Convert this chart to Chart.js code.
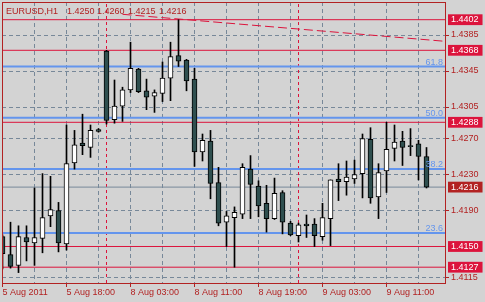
<!DOCTYPE html>
<html><head><meta charset="utf-8">
<script src="https://cdn.jsdelivr.net/npm/chart.js@4.4.0/dist/chart.umd.min.js"></script>
<style>html,body{margin:0;padding:0;background:#D3D3D3;overflow:hidden}canvas{display:block}</style>
</head><body>
<canvas id="c" width="485" height="302"></canvas>
<script>
// ---- data ----
const headerTexts = ['EURUSD,H1', '1.4250', '1.4260', '1.4215', '1.4216'];
const barTimes = [
  '5 Aug 10:00','5 Aug 11:00','5 Aug 12:00','5 Aug 13:00','5 Aug 14:00','5 Aug 15:00','5 Aug 16:00','5 Aug 17:00',
  '5 Aug 18:00','5 Aug 19:00','5 Aug 20:00','5 Aug 21:00','5 Aug 22:00',
  '8 Aug 00:00','8 Aug 01:00','8 Aug 02:00','8 Aug 03:00','8 Aug 04:00','8 Aug 05:00','8 Aug 06:00','8 Aug 07:00',
  '8 Aug 08:00','8 Aug 09:00','8 Aug 10:00','8 Aug 11:00','8 Aug 12:00','8 Aug 13:00','8 Aug 14:00','8 Aug 15:00',
  '8 Aug 16:00','8 Aug 17:00','8 Aug 18:00','8 Aug 19:00','8 Aug 20:00','8 Aug 21:00','8 Aug 22:00','8 Aug 23:00',
  '9 Aug 00:00','9 Aug 01:00','9 Aug 02:00','9 Aug 03:00','9 Aug 04:00','9 Aug 05:00','9 Aug 06:00','9 Aug 07:00',
  '9 Aug 08:00','9 Aug 09:00','9 Aug 10:00','9 Aug 11:00','9 Aug 12:00','9 Aug 13:00','9 Aug 14:00','9 Aug 15:00',
  '9 Aug 16:00'
];
const opens = [
  1.4161,1.4141,1.4129,1.4160,1.4154,1.4159,1.4184,1.4190,1.4153,1.4243,
  1.4265,1.4260,1.4280,1.4367,1.4291,1.4306,1.4324,1.4347,1.4323,1.4317,
  1.4320,1.4337,1.4362,1.4357,1.4336,1.4255,1.4267,1.4221,1.4177,1.4182,
  1.4186,1.4236,1.4217,1.4198,1.4181,1.4210,1.4176,1.4162,1.4175,1.4175,
  1.4161,1.4181,1.4225,1.4222,1.4225,1.4231,1.4269,1.4205,1.4234,1.4259,
  1.4267,1.4262,1.4264,1.4250
];
const highs = [
  1.4163,1.4177,1.4173,1.4173,1.4215,1.4231,1.4228,1.4199,1.4285,1.4279,
  1.4297,1.4285,1.4281,1.4368,1.4335,1.4327,1.4377,1.4348,1.4336,1.4324,
  1.4355,1.4377,1.4402,1.4358,1.4348,1.4275,1.4279,1.4238,1.4189,1.4194,
  1.4242,1.4251,1.4223,1.4218,1.4226,1.4212,1.4178,1.4176,1.4185,1.4181,
  1.4198,1.4224,1.4242,1.4245,1.4246,1.4275,1.4282,1.4242,1.4288,1.4285,
  1.4278,1.4281,1.4268,1.4260
];
const lows = [
  1.4125,1.4126,1.4121,1.4134,1.4129,1.4143,1.4172,1.4144,1.4146,1.4236,
  1.4252,1.4249,1.4277,1.4286,1.4287,1.4289,1.4321,1.4321,1.4302,1.4299,
  1.4311,1.4312,1.4350,1.4323,1.4239,1.4245,1.4203,1.4173,1.4150,1.4127,
  1.4181,1.4181,1.4183,1.4166,1.4180,1.4164,1.4162,1.4155,1.4160,1.4150,
  1.4157,1.4151,1.4201,1.4207,1.4220,1.4204,1.4198,1.4181,1.4210,1.4245,
  1.4240,1.4251,1.4224,1.4215
];
const closes = [
  1.4142,1.4128,1.4161,1.4155,1.4160,1.4182,1.4191,1.4154,1.4242,1.4263,
  1.4262,1.4279,1.4278,1.4290,1.4306,1.4324,1.4348,1.4322,1.4316,1.4321,
  1.4337,1.4361,1.4356,1.4334,1.4255,1.4268,1.4220,1.4176,1.4184,1.4188,
  1.4238,1.4219,1.4195,1.4181,1.4209,1.4177,1.4163,1.4174,1.4173,1.4162,
  1.4182,1.4224,1.4222,1.4227,1.4230,1.4270,1.4204,1.4232,1.4258,1.4266,
  1.4260,1.4261,1.4250,1.4216
];
const gridBars = [0,4,8,12,16,20,24,28,32,36,40,44,48,52];
const timeTickBars = [0,8,16,24,32,40,48];
const timeTickLabels = ['5 Aug 2011','5 Aug 18:00','8 Aug 03:00','8 Aug 11:00','8 Aug 19:00','9 Aug 03:00','9 Aug 11:00'];
const priceTicks = [1.4385,1.4345,1.4305,1.4270,1.4230,1.4190,1.4115];
const levelPrices = [1.4402,1.4368,1.4288,1.4150,1.4127];
const bidPrice = 1.4216;
const fibLabels = ['61.8','50.0','38.2','23.6'];
const fibPrices = [1.4350,1.4293,1.4236,1.4165];
const separatorBars = [13,37];
const trendBars = [15, 55.3125];
const trendPrices = [1.4408, 1.4378];

// ---- styles ----
const BG = '#D3D3D3', AXIS = '#B22222', GRID = '#778899', LEVEL = '#DC143C', BID = '#778899', BIDBOX = '#B22222', FIB = '#6495ED';
const UP = '#FFFFFF', DOWN = '#2F4F4F';
const FONT = 'Liberation Sans';
const Y_MIN = 1.410944, Y_MAX = 1.442167;
const X_MIN = -0.0625, X_MAX = 55.3125;

const near = (a, b) => Math.abs(a - b) < 1e-7;
const isLevel = v => levelPrices.some(l => near(l, v));
const isBid = v => near(v, bidPrice);
const isBox = v => isLevel(v) || isBid(v);

const datasets = [];
datasets.push({
  type: 'bar', label: 'body', order: 0, stack: 'candle',
  data: opens.map((o, i) => ({x: i, y: [o, closes[i]]})),
  backgroundColor: opens.map((o, i) => closes[i] > o ? UP : DOWN),
  borderColor: '#000', borderWidth: 1, borderSkipped: false, barThickness: 5
});
datasets.push({
  type: 'bar', label: 'wick', order: 1, stack: 'candle',
  data: lows.map((l, i) => ({x: i, y: [l, highs[i]]})),
  backgroundColor: '#000', borderWidth: 0, barThickness: 1
});
const hLine = (v, color, width, dash) => ({
  type: 'line', order: 2, data: [{x: X_MIN, y: v}, {x: X_MAX, y: v}],
  borderColor: color, borderWidth: width, borderDash: dash || [], pointRadius: 0, fill: false
});
levelPrices.forEach(v => datasets.push(hLine(v, LEVEL, 1)));
datasets.push(hLine(bidPrice, BID, 1));
fibPrices.forEach(v => datasets.push(hLine(v, FIB, 2)));
separatorBars.forEach(b => datasets.push({
  type: 'line', order: 2, data: [{x: b, y: Y_MIN}, {x: b, y: Y_MAX}],
  borderColor: LEVEL, borderWidth: 1, borderDash: [3, 3], pointRadius: 0, fill: false
}));
datasets.push({
  type: 'line', order: 2, data: [{x: trendBars[0], y: trendPrices[0]}, {x: trendBars[1], y: trendPrices[1]}],
  borderColor: LEVEL, borderWidth: 1, borderDash: [9, 4], pointRadius: 0, fill: false
});

const decor = {
  id: 'decor',
  beforeDraw(chart) {
    const c = chart.ctx;
    c.save(); c.fillStyle = BG; c.fillRect(0, 0, chart.width, chart.height); c.restore();
  },
  afterDraw(chart) {
    const c = chart.ctx, a = chart.chartArea, ys = chart.scales.y;
    c.save();
    c.strokeStyle = AXIS; c.lineWidth = 1;
    c.beginPath();
    c.moveTo(a.left + 0.5, a.top); c.lineTo(a.left + 0.5, a.bottom);
    c.moveTo(a.left, a.top + 0.5); c.lineTo(a.right, a.top + 0.5);
    c.stroke();
    c.font = '9px "' + FONT + '"';
    c.fillStyle = FIB; c.textAlign = 'right'; c.textBaseline = 'alphabetic';
    fibLabels.forEach((t, i) => c.fillText(t, a.right - 2, ys.getPixelForValue(fibPrices[i]) - 2));
    c.fillStyle = AXIS; c.textAlign = 'left';
    const hx = [6, 67, 97, 128, 159];
    headerTexts.forEach((t, i) => c.fillText(t, hx[i], 14));
    c.restore();
  }
};

new Chart(document.getElementById('c'), {
  type: 'bar',
  data: {datasets},
  plugins: [decor],
  options: {
    responsive: false, animation: false, events: [],
    layout: {padding: {left: 2, top: 2, right: 0, bottom: 0}},
    plugins: {legend: {display: false}, tooltip: {enabled: false}},
    scales: {
      x: {
        type: 'linear', position: 'bottom', min: X_MIN, max: X_MAX, offset: false,
        afterBuildTicks: s => { s.ticks = gridBars.map(v => ({value: v})); },
        afterFit: s => { s.height = 19; s.paddingLeft = 0; s.paddingRight = 0; },
        ticks: {
          autoSkip: false, maxRotation: 0, minRotation: 0, align: 'start', padding: 0,
          color: AXIS, font: {family: FONT, size: 9},
          callback: v => { const i = timeTickBars.indexOf(v); return i >= 0 ? timeTickLabels[i] : ''; }
        },
        grid: {
          offset: false, color: GRID, lineWidth: 1, tickLength: 4,
          tickColor: ctx => timeTickBars.includes(ctx.tick && ctx.tick.value) ? AXIS : 'rgba(0,0,0,0)'
        },
        border: {color: AXIS, width: 1, dash: [4, 3]}
      },
      y: {
        type: 'linear', position: 'right', min: Y_MIN, max: Y_MAX, stacked: false,
        afterBuildTicks: s => {
          s.ticks = priceTicks.concat(levelPrices, [bidPrice]).sort((a, b) => a - b).map(v => ({value: v}));
        },
        afterFit: s => { s.width = 40; s.paddingTop = 0; s.paddingBottom = 0; },
        ticks: {
          autoSkip: false, padding: 2, font: {family: FONT, size: 9},
          callback: v => Number(v).toFixed(4),
          color: ctx => isBox(ctx.tick.value) ? '#FFFFFF' : AXIS,
          showLabelBackdrop: ctx => isBox(ctx.tick.value),
          backdropColor: ctx => isBid(ctx.tick.value) ? BIDBOX : LEVEL,
          backdropPadding: {left: 3, right: 4, top: 0, bottom: 0}
        },
        grid: {
          lineWidth: 1, tickLength: 4,
          color: ctx => isBox(ctx.tick.value) ? 'rgba(0,0,0,0)' : GRID,
          tickColor: ctx => isBox(ctx.tick.value) ? 'rgba(0,0,0,0)' : AXIS
        },
        border: {color: AXIS, width: 1, dash: [4, 3]}
      }
    }
  }
});
</script>
</body></html>
